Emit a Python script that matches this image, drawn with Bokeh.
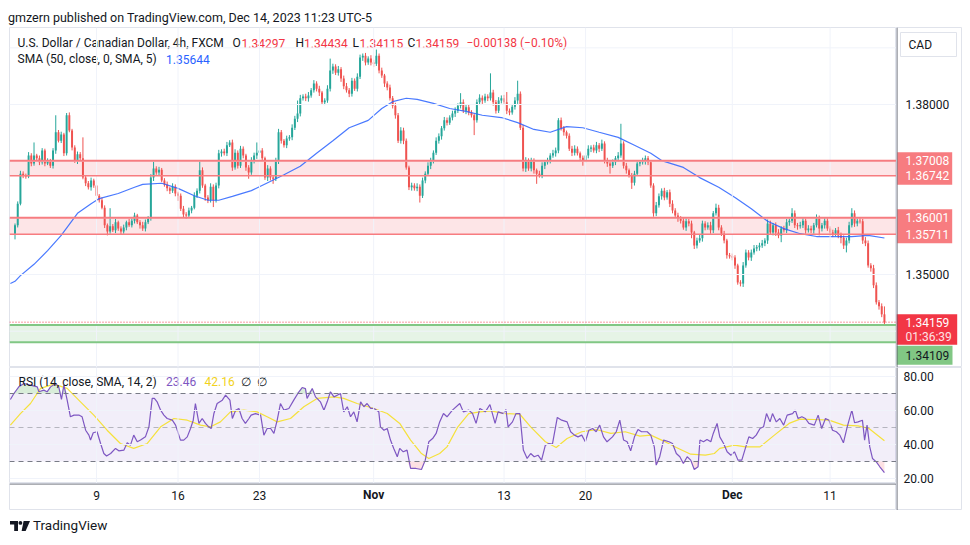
from bokeh.plotting import figure
from bokeh.models import Range1d, Span, Div
from bokeh.layouts import column, row
from bokeh.embed import file_html
from bokeh.resources import INLINE
from bokeh.core.properties import value

FONT = "Roboto"

# ---------------- data (USD/CAD 4h, FXCM) ----------------
first_open = 1.3572
closes = [
    1.3587, 1.3625, 1.3678, 1.3675, 1.3673, 1.3710, 1.3696, 1.3710, 1.3705, 1.3698,
    1.3719, 1.3696, 1.3701, 1.3692, 1.3719, 1.3751, 1.3736, 1.3747, 1.3714, 1.3781,
    1.3754, 1.3724, 1.3701, 1.3712, 1.3705, 1.3671, 1.3661, 1.3654, 1.3666, 1.3657,
    1.3639, 1.3631, 1.3618, 1.3587, 1.3576, 1.3585, 1.3578, 1.3592, 1.3581, 1.3576,
    1.3583, 1.3592, 1.3587, 1.3595, 1.3604, 1.3592, 1.3587, 1.3581, 1.3592, 1.3599,
    1.3671, 1.3687, 1.3680, 1.3685, 1.3666, 1.3659, 1.3652, 1.3648, 1.3655, 1.3643,
    1.3639, 1.3616, 1.3606, 1.3604, 1.3613, 1.3618, 1.3639, 1.3648, 1.3684, 1.3657,
    1.3636, 1.3631, 1.3655, 1.3631, 1.3657, 1.3714, 1.3717, 1.3714, 1.3728, 1.3733,
    1.3689, 1.3715, 1.3692, 1.3722, 1.3710, 1.3689, 1.3680, 1.3701, 1.3710, 1.3715,
    1.3719, 1.3705, 1.3671, 1.3687, 1.3671, 1.3669, 1.3701, 1.3751, 1.3736, 1.3728,
    1.3740, 1.3742, 1.3759, 1.3775, 1.3784, 1.3811, 1.3814, 1.3811, 1.3816, 1.3825,
    1.3837, 1.3828, 1.3821, 1.3804, 1.3807, 1.3828, 1.3860, 1.3867, 1.3856, 1.3862,
    1.3846, 1.3832, 1.3825, 1.3819, 1.3842, 1.3828, 1.3849, 1.3883, 1.3886, 1.3874,
    1.3881, 1.3874, 1.3872, 1.3886, 1.3860, 1.3851, 1.3837, 1.3830, 1.3811, 1.3798,
    1.3781, 1.3736, 1.3754, 1.3736, 1.3689, 1.3654, 1.3657, 1.3652, 1.3655, 1.3639,
    1.3666, 1.3678, 1.3692, 1.3701, 1.3715, 1.3736, 1.3744, 1.3758, 1.3772, 1.3768,
    1.3777, 1.3784, 1.3789, 1.3798, 1.3804, 1.3789, 1.3795, 1.3786, 1.3781, 1.3772,
    1.3804, 1.3812, 1.3807, 1.3814, 1.3811, 1.3821, 1.3804, 1.3789, 1.3807, 1.3811,
    1.3804, 1.3789, 1.3786, 1.3796, 1.3807, 1.3819, 1.3759, 1.3687, 1.3701, 1.3687,
    1.3701, 1.3684, 1.3678, 1.3675, 1.3692, 1.3698, 1.3701, 1.3710, 1.3714, 1.3719,
    1.3772, 1.3758, 1.3751, 1.3745, 1.3722, 1.3715, 1.3722, 1.3714, 1.3706, 1.3701,
    1.3710, 1.3722, 1.3724, 1.3719, 1.3728, 1.3722, 1.3731, 1.3701, 1.3696, 1.3692,
    1.3698, 1.3705, 1.3710, 1.3731, 1.3692, 1.3684, 1.3675, 1.3662, 1.3678, 1.3696,
    1.3698, 1.3700, 1.3705, 1.3698, 1.3657, 1.3608, 1.3622, 1.3638, 1.3648, 1.3636,
    1.3645, 1.3625, 1.3613, 1.3604, 1.3599, 1.3595, 1.3583, 1.3594, 1.3590, 1.3574,
    1.3551, 1.3560, 1.3564, 1.3590, 1.3583, 1.3587, 1.3578, 1.3608, 1.3618, 1.3583,
    1.3572, 1.3560, 1.3534, 1.3532, 1.3530, 1.3516, 1.3486, 1.3484, 1.3516, 1.3539,
    1.3530, 1.3539, 1.3546, 1.3548, 1.3551, 1.3555, 1.3560, 1.3590, 1.3574, 1.3587,
    1.3574, 1.3569, 1.3581, 1.3578, 1.3592, 1.3595, 1.3608, 1.3587, 1.3585, 1.3587,
    1.3595, 1.3578, 1.3581, 1.3578, 1.3587, 1.3599, 1.3581, 1.3587, 1.3595, 1.3581,
    1.3574, 1.3572, 1.3578, 1.3569, 1.3565, 1.3551, 1.3560, 1.3587, 1.3608, 1.3590,
    1.3595, 1.3594, 1.3560, 1.3555, 1.3516, 1.3511, 1.3481, 1.3451, 1.3444, 1.34297,
    1.34159,
]
# wick lengths in pips above / below the candle body
wick_up = [
    3, 4, 5, 4, 3, 6, 4, 23, 3, 5,   4, 3, 4, 3, 4, 30, 4, 5, 3, 4,
    5, 3, 4, 5, 4, 37, 3, 4, 5, 3,   4, 3, 5, 4, 3, 32, 4, 6, 3, 4,
    5, 3, 6, 4, 5, 3, 4, 6, 5, 4,    6, 12, 4, 5, 3, 4, 5, 3, 6, 4,
    3, 4, 5, 4, 5, 3, 6, 4, 18, 5,   3, 4, 6, 4, 5, 6, 4, 5, 6, 4,
    5, 6, 4, 5, 4, 3, 4, 6, 5, 18,   5, 4, 3, 6, 4, 3, 5, 6, 4, 3,
    5, 4, 6, 5, 23, 6, 4, 5, 6, 4,   6, 4, 5, 3, 4, 6, 21, 5, 4, 6,
    4, 5, 6, 4, 5, 4, 6, 5, 4, 5,    4, 6, 5, 11, 4, 5, 3, 4, 5, 4,
    5, 4, 6, 5, 4, 3, 5, 4, 6, 4,    5, 4, 6, 5, 4, 6, 5, 4, 6, 5,
    4, 5, 6, 4, 16, 5, 4, 5, 4, 3,   5, 6, 4, 5, 4, 34, 5, 4, 6, 5,
    6, 18, 4, 5, 6, 23, 4, 5, 6, 4,  5, 4, 3, 5, 6, 4, 5, 4, 6, 5,
    4, 5, 4, 3, 4, 5, 6, 4, 3, 4,    5, 6, 4, 5, 6, 4, 7, 4, 5, 4,
    5, 4, 6, 35, 4, 5, 3, 4, 5, 6,   4, 6, 5, 4, 3, 4, 6, 5, 4, 5,
    4, 5, 6, 4, 5, 4, 6, 5, 4, 5,    3, 5, 6, 5, 4, 5, 6, 4, 7, 5,
    4, 5, 3, 4, 5, 4, 3, 4, 6, 5,    4, 5, 6, 4, 5, 6, 4, 7, 5, 4,
    5, 6, 4, 5, 6, 4, 9, 5, 4, 6,    5, 4, 6, 5, 4, 7, 5, 4, 6, 5,
    4, 5, 4, 6, 5, 4, 5, 6, 9, 5,    4, 5, 4, 6, 5, 4, 6, 5, 4, 5,
    14,
]
wick_dn = [
    10, 4, 3, 5, 4, 3, 5, 4, 3, 5,   4, 5, 3, 4, 5, 6, 3, 4, 5, 4,
    3, 5, 4, 6, 4, 3, 5, 4, 6, 4,    5, 4, 3, 5, 7, 4, 3, 5, 4, 6,
    4, 5, 3, 4, 5, 3, 6, 4, 5, 3,    4, 6, 4, 5, 3, 4, 5, 6, 4, 5,
    9, 4, 5, 6, 4, 5, 3, 4, 5, 4,    6, 5, 4, 12, 4, 5, 6, 4, 5, 3,
    6, 4, 5, 4, 5, 6, 11, 4, 5, 6,   4, 5, 4, 6, 5, 9, 4, 6, 5, 4,
    5, 4, 5, 4, 6, 5, 4, 5, 6, 4,    4, 5, 6, 4, 5, 4, 5, 6, 4, 5,
    6, 5, 4, 6, 5, 4, 5, 4, 6, 5,    4, 5, 6, 4, 5, 4, 6, 5, 4, 5,
    6, 4, 5, 6, 4, 5, 6, 4, 5, 12,   4, 5, 4, 6, 5, 4, 5, 6, 4, 5,
    4, 5, 6, 4, 5, 4, 6, 5, 4, 26,   4, 5, 6, 4, 5, 4, 6, 5, 4, 5,
    4, 6, 5, 4, 5, 6, 4, 5, 6, 4,    5, 6, 18, 4, 5, 6, 4, 5, 4, 6,
    5, 4, 6, 5, 4, 6, 5, 4, 6, 9,    4, 5, 6, 4, 5, 6, 4, 5, 6, 14,
    4, 5, 6, 4, 5, 6, 4, 11, 5, 4,   5, 4, 6, 5, 4, 6, 5, 4, 6, 5,
    4, 6, 5, 4, 6, 5, 4, 6, 5, 10,   6, 5, 4, 6, 5, 4, 6, 5, 4, 5,
    4, 5, 6, 4, 5, 6, 4, 5, 6, 4,    5, 6, 4, 5, 6, 4, 5, 6, 4, 5,
    6, 5, 12, 4, 5, 6, 4, 5, 6, 4,   5, 6, 4, 5, 6, 4, 12, 5, 6, 4,
    5, 6, 4, 5, 10, 6, 12, 5, 4, 6,  5, 4, 6, 5, 4, 6, 5, 4, 6, 5,
    4,
]
# SMA (50, close) sampled along the curve: bar index, price
sma_bar = [-1.7, 0, 2, 7, 12, 17, 23, 28, 31, 38, 44, 47, 54, 60, 66, 71, 75, 80, 87, 93,
           99, 105, 111, 117, 123, 130, 135, 139, 144, 148, 154, 160, 166, 172, 179, 185,
           191, 197, 203, 209, 215, 222, 228, 234, 238, 246, 252, 259, 265, 271, 277, 283,
           289, 295, 301, 308, 314, 320]
sma_val = [1.3484, 1.3488, 1.3498, 1.3518, 1.3542, 1.3569, 1.3608, 1.3625, 1.3634, 1.3643,
           1.3654, 1.3659, 1.3661, 1.3652, 1.3639, 1.3631, 1.3631, 1.3638, 1.3648, 1.3662,
           1.3676, 1.3691, 1.3714, 1.3736, 1.3759, 1.3772, 1.3793, 1.3805, 1.3811, 1.3809,
           1.3802, 1.3793, 1.3788, 1.3781, 1.3777, 1.3768, 1.3756, 1.3751, 1.3761, 1.3759,
           1.3751, 1.3742, 1.3728, 1.3714, 1.3701, 1.3689, 1.3671, 1.3654, 1.3636, 1.3616,
           1.3594, 1.3581, 1.3572, 1.3567, 1.3567, 1.3567, 1.3569, 1.35644]
# RSI (14) line: bar index, value
rsi_bar = [-1.7, -0.4, 1.4, 3.3, 5.7, 8.2, 8.8, 10.6, 11.8, 13.1, 14.9, 16.1, 17.1, 18.0, 19.2,
           20.4, 21.7, 23.5, 24.7, 26.0, 27.2, 27.8, 28.8, 30.2, 31.5, 32.7, 33.7, 35.2, 37.0,
           38.2, 40.1, 41.3, 42.5, 43.7, 45.0, 46.2, 48.0, 49.3, 50.5, 51.3, 52.3, 53.6, 54.8,
           56.0, 57.9, 59.1, 60.9, 62.1, 63.4, 64.6, 65.6, 66.4, 67.7, 68.9, 70.1, 71.3, 72.2,
           73.2, 74.4, 76.3, 77.5, 79.1, 80.0, 81.2, 82.4, 83.6, 84.8, 86.1, 86.9, 88.5, 90.4,
           91.6, 92.8, 94.1, 95.3, 96.5, 97.7, 99.0, 100.8, 102.6, 104.5, 105.7, 106.9, 107.5,
           109.4, 110.6, 112.4, 113.7, 114.9, 116.1, 117.4, 118.6, 119.8, 121.0, 122.3, 123.5,
           124.7, 125.9, 127.2, 128.4, 129.6, 130.9, 132.1, 133.9, 134.5, 135.8, 137.0, 138.2,
           139.4, 140.7, 141.6, 142.9, 144.3, 145.6, 147.6, 149.6, 151.0, 152.3, 153.7, 155.0,
           156.3, 157.7, 159.0, 161.0, 163.7, 165.0, 167.0, 168.4, 169.7, 171.1, 173.1, 174.8,
           176.7, 177.8, 179.8, 180.7, 181.5, 183.1, 184.4, 185.8, 187.1, 188.5, 189.8, 191.1,
           192.5, 193.8, 195.2, 196.5, 197.8, 199.6, 201.2, 203.2, 204.5, 205.9, 207.2, 208.6,
           209.9, 211.2, 212.6, 213.9, 215.2, 216.6, 217.9, 219.9, 221.3, 222.6, 224.0, 225.3,
           226.6, 228.0, 229.3, 230.6, 232.7, 234.0, 235.3, 236.0, 237.3, 238.7, 240.7, 242.0,
           243.4, 244.7, 246.0, 247.4, 248.7, 250.0, 251.4, 252.1, 253.4, 254.7, 256.1, 257.0,
           258.4, 259.4, 260.8, 262.1, 263.5, 264.8, 266.1, 267.5, 268.8, 270.1, 271.5, 272.8,
           274.2, 275.5, 276.6, 277.9, 278.8, 280.2, 281.5, 282.9, 284.2, 286.2, 287.2, 288.2,
           289.6, 290.9, 292.2, 294.2, 295.6, 296.9, 298.3, 299.6, 300.9, 302.3, 303.6, 304.9,
           306.3, 308.0, 309.0, 310.3, 311.9, 312.7, 313.6, 314.6, 315.6, 317.0, 318.3, 320.0]
rsi_val = [66.5, 70.0, 73.9, 75.9, 74.9, 73.9, 71.0, 72.0, 71.0, 73.9, 75.9, 73.9, 66.5, 74.9, 66.1,
           56.3, 57.3, 57.3, 56.3, 48.4, 45.5, 42.6, 46.9, 47.5, 40.6, 34.7, 33.2, 34.7, 37.7,
           36.3, 36.7, 41.0, 39.6, 45.5, 41.6, 42.6, 44.5, 50.4, 67.1, 67.1, 65.1, 60.2, 57.3,
           55.3, 54.3, 51.4, 42.6, 42.6, 44.5, 49.4, 54.3, 64.1, 52.4, 55.3, 52.4, 50.4, 49.4,
           58.2, 64.1, 66.1, 69.0, 66.1, 55.3, 60.2, 61.2, 55.3, 52.4, 55.3, 57.3, 58.2, 57.3,
           45.5, 49.4, 49.4, 46.5, 54.3, 64.1, 60.2, 61.2, 66.1, 71.0, 73.5, 72.9, 67.1,
           72.9, 68.0, 65.1, 60.2, 65.1, 71.0, 68.0, 69.0, 70.0, 59.2, 62.2, 56.3,
           59.2, 53.3, 65.1, 62.2, 64.1, 61.2, 61.2, 59.2, 50.4, 48.4, 49.4, 42.6,
           37.7, 32.8, 37.7, 35.7, 36.7, 25.9, 25.9, 25.3, 30.8, 41.6, 43.5, 46.5,
           53.3, 58.2, 56.3, 60.2, 64.1, 59.2, 60.2, 58.2, 52.4, 61.2, 59.2, 63.5,
           52.4, 59.2, 58.2, 60.6, 50.4, 53.3, 58.2, 58.2, 36.7, 31.8, 34.7, 32.8,
           33.7, 30.8, 39.6, 40.6, 40.2, 55.9, 54.3, 53.3, 47.5, 45.5, 44.5, 45.5,
           41.6, 48.4, 49.4, 47.5, 51.4, 44.5, 41.6, 44.5, 47.5, 54.3, 42.6, 41.6,
           36.3, 44.5, 48.8, 47.5, 47.5, 45.5, 38.6, 27.9, 32.8, 42.6, 41.6, 40.6,
           34.7, 32.8, 28.8, 32.8, 30.8, 25.3, 26.9, 42.6, 41.6, 43.0, 41.6, 46.5,
           52.4, 44.5, 40.6, 35.7, 33.7, 35.7, 30.8, 30.8, 37.7, 44.5, 43.5, 45.5,
           49.4, 50.4, 58.2, 53.3, 58.2, 53.3, 55.3, 51.4, 57.3, 58.2, 60.2, 55.3,
           56.3, 55.3, 52.4, 51.4, 57.3, 49.4, 55.3, 54.3, 48.4, 47.5, 45.5, 41.0,
           50.4, 60.2, 52.8, 53.3, 54.3, 42.6, 51.4, 38.6, 31.8, 29.8, 26.9, 23.46]
# RSI-based SMA (14) line: bar index, value
rsima_bar = [-1.7, 2.0, 5.7, 9.4, 14.3, 19.2, 24.1, 29.0, 33.9, 38.8, 43.7, 48.7, 53.6, 58.5,
             63.4, 68.3, 72.0, 75.6, 79.3, 84.2, 89.1, 92.8, 96.5, 101.4, 106.3, 111.2, 117.4,
             121.0, 125.9, 132.1, 137.0, 141.6, 145.6, 149.6, 152.3, 156.3, 159.0, 163.0, 167.0,
             171.1, 175.1, 180.4, 185.8, 189.8, 195.2, 199.2, 203.2, 208.6, 213.9, 219.3, 224.6,
             230.0, 234.0, 238.0, 243.4, 248.7, 254.1, 257.4, 259.4, 264.8, 268.8, 274.2, 279.5,
             284.9, 288.9, 294.2, 299.6, 304.9, 310.3, 314.3, 320.0]
rsima_val = [51.4, 58.2, 64.1, 73.0, 75.5, 73.0, 65.1, 57.3, 48.4, 40.6, 37.7, 40.6, 50.4, 55.3,
             54.3, 51.4, 50.4, 53.3, 59.2, 60.2, 59.2, 56.3, 53.3, 55.3, 62.2, 67.1, 68.0,
             67.1, 64.1, 61.2, 58.2, 52.4, 42.6, 34.7, 31.8, 34.7, 38.6, 50.4, 58.2,
             59.2, 59.8, 58.2, 57.8, 50.4, 41.6, 38.2, 43.5, 47.5, 48.8, 46.5, 47.5,
             44.9, 45.5, 42.6, 38.2, 34.3, 33.7, 34.7, 37.7, 39.6, 38.6, 38.6, 45.5,
             52.4, 54.9, 54.7, 54.3, 51.4, 51.0, 49.4, 42.16]

zone_red = [(1.36742, 1.37008), (1.35711, 1.36001)]
zone_green = (1.33805, 1.34109)
last_o, last_h, last_l, last_c = 1.34297, 1.34434, 1.34115, 1.34159
last_chg, last_pct = -0.00138, -0.10
sma_last = 1.35644
rsi_last, rsima_last = 23.46, 42.16
countdown = "01:36:39"
tick_bars = [30, 60, 90, 132, 180, 210, 264, 300]
tick_labels = ["9", "16", "23", "Nov", "13", "20", "Dec", "11"]
tick_bold = [False, False, False, True, False, False, True, False]
price_grid = [1.34, 1.35, 1.36, 1.37, 1.38, 1.39]
price_labels = [1.38, 1.35]
rsi_grid = [20, 40, 60, 80]

# ---------------- layout helpers (page pixels -> data) ----------------
PPX = 0.03 / 170.0          # price per pixel


def py2price(y):
    return 1.38 - (y - 104) * PPX


def px2bar(x):
    return (x - 14.5) / 2.717


def py2rsi(y):
    return 80 - (y - 376) / 1.7


UP, DN = "#26a69a", "#ef5350"
GRID = "#f0f3fa"
BORDER = "#e0e3eb"
AXLINE = "#5d606b"
TXT = "#131722"
RED = "#f23645"


def base_fig(w, h, xr, yr):
    f = figure(width=w, height=h, x_range=xr, y_range=yr, x_axis_type=None, y_axis_type=None,
               toolbar_location=None, output_backend="svg", title=None,
               min_border_left=0, min_border_right=0, min_border_top=0, min_border_bottom=0)
    f.outline_line_color = BORDER
    f.background_fill_color = "white"
    f.border_fill_color = "white"
    return f


xr = Range1d(px2bar(9), px2bar(896))

# ---------------- price pane ----------------
p = base_fig(888, 340, xr, Range1d(py2price(367), py2price(27)))
p.min_border_left = 1
for b in tick_bars:
    p.add_layout(Span(location=b, dimension="height", line_color=GRID, line_width=1))
for lv in price_grid:
    p.add_layout(Span(location=lv, dimension="width", line_color=GRID, line_width=1))

x0, x1 = px2bar(9), px2bar(896)
for lo, hi in zone_red:
    p.quad(left=x0 - 5, right=x1 + 5, bottom=lo, top=hi, fill_color=RED, fill_alpha=0.13, line_color=None)
    p.add_layout(Span(location=hi, dimension="width", line_color="#f77c80", line_width=2))
    p.add_layout(Span(location=lo, dimension="width", line_color="#f77c80", line_width=1.5))
p.quad(left=x0 - 5, right=x1 + 5, bottom=zone_green[0], top=zone_green[1], fill_color="#81c784",
       fill_alpha=0.2, line_color=None)
p.add_layout(Span(location=zone_green[1], dimension="width", line_color="#81c784", line_width=2))
p.add_layout(Span(location=zone_green[0], dimension="width", line_color="#81c784", line_width=2))

n = min(len(closes), len(wick_up), len(wick_dn))
opens = [first_open] + closes[:n - 1]
xs = list(range(n))
tops = [max(opens[i], closes[i]) for i in range(n)]
bots = [min(opens[i], closes[i]) for i in range(n)]
highs = [tops[i] + wick_up[i] * 1e-4 for i in range(n)]
lows = [bots[i] - wick_dn[i] * 1e-4 for i in range(n)]
cols = [UP if closes[i] >= opens[i] else DN for i in range(n)]
p.segment(x0=xs, y0=highs, x1=xs, y1=lows, line_color=cols, line_width=1)
p.vbar(x=xs, width=0.72, top=tops, bottom=bots, fill_color=cols, line_color=None)

p.line(sma_bar, sma_val, line_color="#2962ff", line_width=1.2, line_alpha=0.85)
p.add_layout(Span(location=last_c, dimension="width", line_color=RED, line_width=1, line_dash="1 2"))

LF = "12px"


def ptext(fig, x, y, s, color, size=LF, style="normal", align="left"):
    fig.text(x=[x], y=[y], text=[s], text_font=value(FONT), text_font_size=size,
             text_color=color, text_baseline="middle", text_align=align, text_font_style=style)


ly = py2price(42.5)
ptext(p, px2bar(17), ly, "U.S. Dollar / Canadian Dollar, 4h, FXCM", TXT)
for lab, lx, val, vx in [("O", 232, last_o, 241), ("H", 295, last_h, 303.5),
                         ("L", 352, last_l, 359), ("C", 407, last_c, 415)]:
    ptext(p, px2bar(lx), ly, lab, TXT)
    ptext(p, px2bar(vx), ly, f"{val:.5f}", RED)
ptext(p, px2bar(466), ly, f"\u2212{abs(last_chg):.5f} (\u2212{abs(last_pct):.2f}%)", RED)
ly2 = py2price(58.5)
ptext(p, px2bar(17), ly2, "SMA (50, close, 0, SMA, 5)", TXT)
ptext(p, px2bar(165.5), ly2, f"{sma_last:.5f}", "#2962ff")

# ---------------- price axis column ----------------
pa = base_fig(66, 340, Range1d(0, 66), p.y_range)
pa.add_layout(Span(location=0.5, dimension="height", line_color=AXLINE, line_width=1))
pa.quad(left=[4], right=[60], top=[py2price(32)], bottom=[py2price(56)], fill_color="white",
        line_color=BORDER, line_width=1)
ptext(pa, 12, py2price(44.5), "CAD", TXT)
for lv in price_labels:
    ptext(pa, 9, lv, f"{lv:.5f}", TXT)
for lo, hi in zone_red:
    pa.quad(left=[0.7], right=[55.7], top=[hi + 8.5 * PPX], bottom=[lo - 9 * PPX],
            fill_color="#f77c80", line_color=None)
    ptext(pa, 9, hi, f"{hi:.5f}", "white")
    ptext(pa, 9, lo, f"{lo:.5f}", "white")
pa.quad(left=[0], right=[60.7], top=[last_c + 8 * PPX], bottom=[last_c - 22.5 * PPX],
        fill_color=RED, line_color=None)
ptext(pa, 9, last_c, f"{last_c:.5f}", "white")
ptext(pa, 9, last_c - 14.5 * PPX, countdown, "#fde2e4")
pa.quad(left=[0], right=[56], top=[last_c - 23.5 * PPX], bottom=[last_c - 42.5 * PPX],
        fill_color="#81c784", line_color=None)
ptext(pa, 9, last_c - 33 * PPX, f"{zone_green[1]:.5f}", TXT)

# ---------------- RSI pane ----------------
r = base_fig(888, 116, xr, Range1d(py2rsi(483), py2rsi(367)))
r.min_border_left = 1
for b in tick_bars:
    r.add_layout(Span(location=b, dimension="height", line_color=GRID, line_width=1))
for lv in rsi_grid:
    r.add_layout(Span(location=lv, dimension="width", line_color=GRID, line_width=1))
r.quad(left=x0 - 5, right=x1 + 5, bottom=30, top=70, fill_color="#7e57c2", fill_alpha=0.1, line_color=None)
r.add_layout(Span(location=70, dimension="width", line_color="#787b86", line_width=1, line_dash="5 4"))
r.add_layout(Span(location=30, dimension="width", line_color="#787b86", line_width=1, line_dash="5 4"))
r.add_layout(Span(location=50, dimension="width", line_color="#787b86", line_alpha=0.5, line_width=1,
                  line_dash="5 4"))
r.varea(x=rsi_bar, y1=[70] * len(rsi_bar), y2=[max(v, 70) for v in rsi_val], fill_color="#4caf50",
        fill_alpha=0.22)
r.varea(x=rsi_bar, y1=[min(v, 30) for v in rsi_val], y2=[30] * len(rsi_bar), fill_color=RED,
        fill_alpha=0.15)
r.line(rsima_bar, rsima_val, line_color="#f5e13c", line_width=1.2)
r.line(rsi_bar, rsi_val, line_color="#7e57c2", line_width=1.2)
ry = py2rsi(381)
ptext(r, px2bar(18), ry, "RSI (14, close, SMA, 14, 2)", TXT)
ptext(r, px2bar(165.5), ry, f"{rsi_last:.2f}", "#7e57c2")
ptext(r, px2bar(204), ry, f"{rsima_last:.2f}", "#f2d21b")
ptext(r, px2bar(240.5), ry, "\u2205", TXT)
ptext(r, px2bar(256), ry, "\u2205", TXT)

# RSI value axis (also spans the empty corner below it)
ra = base_fig(66, 143, Range1d(0, 66), Range1d(py2rsi(510), py2rsi(367)))
ra.add_layout(Span(location=0.5, dimension="height", line_color=AXLINE, line_width=1))
for lv in rsi_grid:
    ptext(ra, 7, lv, f"{lv:.2f}", TXT)

# ---------------- time axis ----------------
t = base_fig(888, 27, xr, Range1d(27, 0))
t.min_border_left = 1
t.add_layout(Span(location=0.5, dimension="width", line_color=AXLINE, line_width=1))
for b, lab, bold in zip(tick_bars, tick_labels, tick_bold):
    ptext(t, b, 11.5, lab, TXT, style="bold" if bold else "normal", align="center")

# ---------------- header / footer ----------------
header = Div(text=('<div style="font-family:Roboto,sans-serif;font-size:12.5px;color:#131722;'
                   'line-height:19px;white-space:nowrap;">'
                   'gmzern published on TradingView.com, Dec 14, 2023 11:23 UTC-5</div>'),
             width=954, height=19, margin=(0, 0, 0, 0))
logo = ('<svg width="20" height="10" viewBox="0 0 20 10" style="display:block">'
        '<path d="M0 0 H8 V10 H4.2 V3.6 H0 Z" fill="#131722"/>'
        '<circle cx="10.4" cy="1.9" r="1.9" fill="#131722"/>'
        '<path d="M13.6 0 H20 L15.6 10 H11.6 Z" fill="#131722"/></svg>')
footer = Div(text=('<div style="display:flex;align-items:center;height:27px;box-sizing:border-box;'
                   'padding-top:5px;padding-left:2px;">' + logo +
                   '<span style="font-family:Roboto,sans-serif;font-size:13.5px;color:#131722;'
                   'margin-left:3px;">TradingView</span></div>'),
             width=954, height=27, margin=(0, 0, 0, 0))

layout = column(header,
                row(p, pa, spacing=0),
                row(column(r, t, spacing=0), ra, spacing=0),
                footer, spacing=0, margin=(8, 8, 8, 8))

open("out.html", "w").write(file_html(layout, INLINE))
